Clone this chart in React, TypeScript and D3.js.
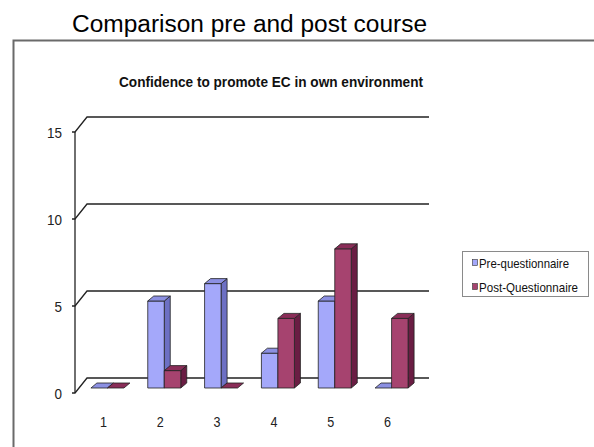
import * as d3 from 'd3';

const categories = ['1', '2', '3', '4', '5', '6'];
const seriesNames = ['Pre-questionnaire', 'Post-Questionnaire'];
const preValues = [0, 5, 6, 2, 5, 0];
const postValues = [0, 1, 0, 4, 8, 4];
const yTicks = [0, 5, 10, 15];

const palette = [
  { front: '#a4a8fa', side: '#6d70c4', top: '#8c90e2' },
  { front: '#a6436f', side: '#6a1d43', top: '#8a2d58' },
];

const narrow = "'Liberation Sans Narrow', 'Arial Narrow', 'Liberation Sans', Arial, sans-serif";

const App = () => {
  const width = 594;
  const height = 447;

  // front axis plane
  const x = d3.scaleBand().domain(categories).range([75, 416]).padding(0);
  const y = d3.scaleLinear().domain([0, 15]).range([393, 132]);
  const inner = d3.scaleBand().domain(seriesNames).range([0, 33]).padding(0);

  const wall = { dx: 12, dy: -15 };   // back wall offset
  const plane = { dx: 4, dy: -5 };    // where bars stand
  const depth = { dx: 6, dy: -5 };    // bar thickness
  const wallRight = 429;

  const series = [preValues, postValues];

  const bars = categories.flatMap((c, i) =>
    series.map((vals, s) => {
      const x0 = x(c) + x.bandwidth() / 2 - 16.5 + plane.dx + inner(seriesNames[s]);
      const w = inner.bandwidth();
      const yb = y(0) + plane.dy;
      const yt = y(vals[i]) + plane.dy;
      return { key: `${c}-${s}`, s, x0, w, yb, yt, v: vals[i] };
    })
  );

  return (
    <svg width={width} height={height} style={{ position: 'absolute', left: 0, top: 0, background: '#fff' }}>
      <text x={72} y={32} fontFamily="'Liberation Sans', Arial, sans-serif" fontSize={23} textLength={355} lengthAdjust="spacingAndGlyphs" fill="#000">
        Comparison pre and post course
      </text>

      <rect x={13.5} y={40.5} width={700} height={500} fill="none" stroke="#6a6a6a" strokeWidth={2} />

      <text x={271} y={87} textAnchor="middle" fontFamily={narrow} fontWeight="bold" fontSize={15} textLength={304} lengthAdjust="spacingAndGlyphs" fill="#111">
        Confidence to promote EC in own environment
      </text>

      {/* back wall gridlines with diagonal connectors */}
      <g stroke="#222" strokeWidth={1.3} fill="none">
        {yTicks.map(t => (
          <path key={t} d={`M${72},${y(t)}L${75},${y(t)}L${75 + wall.dx},${y(t) + wall.dy}L${wallRight},${y(t) + wall.dy}`} />
        ))}
        <line x1={75} x2={75} y1={y(15)} y2={y(0)} />
      </g>

      <g fontFamily={narrow} fontSize={14} fill="#222">
        {yTicks.map(t => (
          <text key={t} x={62} y={y(t) + 1} textAnchor="end" dominantBaseline="central" textLength={t >= 10 ? 15 : 7.5} lengthAdjust="spacingAndGlyphs">{t}</text>
        ))}
        {categories.map(c => (
          <text key={c} x={x(c) + x.bandwidth() / 2} y={422} textAnchor="middle" dominantBaseline="central" textLength={7} lengthAdjust="spacingAndGlyphs">{c}</text>
        ))}
      </g>

      <g stroke="#222" strokeWidth={0.8} strokeLinejoin="round">
        {bars.map(b => {
          const col = palette[b.s];
          const top = `M${b.x0},${b.yt}L${b.x0 + depth.dx},${b.yt + depth.dy}L${b.x0 + b.w + depth.dx},${b.yt + depth.dy}L${b.x0 + b.w},${b.yt}Z`;
          const side = `M${b.x0 + b.w},${b.yt}L${b.x0 + b.w + depth.dx},${b.yt + depth.dy}L${b.x0 + b.w + depth.dx},${b.yb + depth.dy}L${b.x0 + b.w},${b.yb}Z`;
          return (
            <g key={b.key}>
              {b.v > 0 && <path d={side} fill={col.side} />}
              {b.v > 0 && <rect x={b.x0} y={b.yt} width={b.w} height={b.yb - b.yt} fill={col.front} />}
              <path d={top} fill={col.top} />
            </g>
          );
        })}
      </g>

      <g>
        <rect x={462.5} y={251.5} width={126} height={45} fill="#fff" stroke="#8a8a8a" strokeWidth={1} />
        {seriesNames.map((n, i) => (
          <g key={n}>
            <rect x={472.5} y={259.5 + i * 24} width={5} height={6} fill={palette[i].front} stroke="#333" strokeWidth={0.6} />
            <text x={479} y={267.5 + i * 24} fontFamily={narrow} fontSize={13} textLength={i === 0 ? 90 : 99} lengthAdjust="spacingAndGlyphs" fill="#111">{n}</text>
          </g>
        ))}
      </g>
    </svg>
  );
};

export default App;
